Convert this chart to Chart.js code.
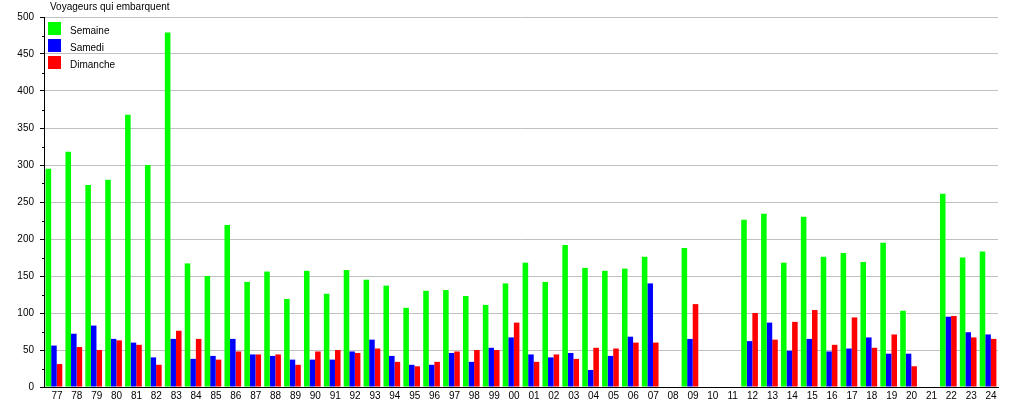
<!DOCTYPE html>
<html lang="fr">
<head>
<meta charset="utf-8">
<title>Voyageurs qui embarquent</title>
<script src="https://cdn.jsdelivr.net/npm/chart.js@4.4.1/dist/chart.umd.min.js"></script>
<style>
  html, body { margin: 0; padding: 0; background: #fff; }
  #wrap { width: 1015px; height: 400px; }
</style>
</head>
<body>
<div id="wrap"><canvas id="voyageursChart" width="1015" height="400"></canvas></div>
<script>
// années (2 chiffres) 1977 -> 2024
const annees = [
  '77', '78', '79', '80', '81', '82', '83', '84', '85', '86', '87', '88', '89', '90', '91', '92',
  '93', '94', '95', '96', '97', '98', '99', '00', '01', '02', '03', '04', '05', '06', '07', '08',
  '09', '10', '11', '12', '13', '14', '15', '16', '17', '18', '19', '20', '21', '22', '23', '24'
];

// null = pas de comptage cette année-là
const semaine = [
  295, 318, 273, 280, 368, 300, 479, 167, 150, 219, 142, 156, 119, 157, 126, 158,
  145, 137, 107, 130, 131, 123, 111, 140, 168, 142, 192, 161, 157, 160, 176, null,
  188, null, null, 226, 234, 168, 230, 176, 181, 169, 195, 103, null, 261, 175, 183
];
const samedi = [
  56, 72, 83, 65, 60, 40, 65, 38, 42, 65, 44, 42, 37, 37, 37, 48,
  64, 42, 30, 30, 46, 34, 53, 67, 44, 40, 46, 23, 42, 68, 140, null,
  65, null, null, 62, 87, 49, 65, 48, 52, 67, 45, 45, null, 95, 74, 71
];
const dimanche = [
  31, 54, 50, 63, 57, 30, 76, 65, 37, 48, 44, 44, 30, 48, 50, 46,
  52, 34, 28, 34, 48, 50, 50, 87, 34, 44, 38, 53, 52, 60, 60, null,
  112, null, null, 100, 64, 88, 104, 57, 94, 53, 71, 28, null, 96, 67, 65
];

const yMin = 0;
const yMax = 500;
const yStep = 25;      // petites graduations
const yLabelStep = 50; // graduations avec libellé

const titre = 'Voyageurs qui embarquent';

Chart.defaults.font.family = '"Liberation Sans", Arial, Helvetica, sans-serif';
Chart.defaults.font.size = 10;
Chart.defaults.color = '#000';

// titre + légende verticale dans le coin haut gauche, petites graduations de l'axe Y
const decorPlugin = {
  id: 'decor',
  afterDraw: (chart) => {
    const ctx = chart.ctx;
    const yScale = chart.scales.y;
    ctx.save();

    // petites graduations (valeurs non multiples de 50)
    ctx.strokeStyle = '#000';
    ctx.lineWidth = 1;
    yScale.ticks.forEach((t) => {
      if (t.value % yLabelStep === 0) return;
      const y = Math.round(yScale.getPixelForValue(t.value)) + 0.5;
      ctx.beginPath();
      ctx.moveTo(yScale.right - 2, y);
      ctx.lineTo(yScale.right, y);
      ctx.stroke();
    });

    ctx.font = '10px "Liberation Sans", Arial, sans-serif';
    ctx.fillStyle = '#000';
    ctx.textAlign = 'left';
    ctx.textBaseline = 'alphabetic';
    ctx.fillText(titre, 50, 10);

    chart.data.datasets.forEach((ds, i) => {
      const top = 22 + i * 17;
      ctx.fillStyle = ds.backgroundColor;
      ctx.fillRect(48, top, 13, 13);
      ctx.fillStyle = '#000';
      ctx.fillText(ds.label, 70, top + 12);
    });
    ctx.restore();
  }
};

new Chart(document.getElementById('voyageursChart'), {
  type: 'bar',
  data: {
    labels: annees,
    datasets: [
      { label: 'Semaine', data: semaine, backgroundColor: '#00ff00' },
      { label: 'Samedi', data: samedi, backgroundColor: '#0000ff' },
      { label: 'Dimanche', data: dimanche, backgroundColor: '#ff0000' }
    ]
  },
  options: {
    responsive: false,
    animation: false,
    devicePixelRatio: 1,
    layout: { padding: { left: 0, top: 17, right: 17, bottom: 0 } },
    datasets: {
      bar: { barPercentage: 1, categoryPercentage: 0.84, borderWidth: 0 }
    },
    plugins: {
      legend: { display: false },
      title: { display: false },
      tooltip: { enabled: false }
    },
    scales: {
      x: {
        grid: { display: false, drawTicks: false },
        border: { display: true, color: '#000', width: 1 },
        ticks: { padding: 3, labelOffset: 3, autoSkip: false, maxRotation: 0, color: '#000' },
        afterFit: (scale) => { scale.height = 13; }
      },
      y: {
        min: yMin,
        max: yMax,
        grid: {
          color: (c) => (c.tick && c.tick.value % yLabelStep === 0 && c.tick.value !== 0) ? '#c0c0c0' : 'transparent',
          tickColor: (c) => (c.tick && c.tick.value % yLabelStep === 0) ? '#000' : 'transparent',
          tickLength: 4,
          lineWidth: 1
        },
        border: { display: true, color: '#000', width: 1 },
        ticks: {
          stepSize: yStep,
          padding: 6,
          color: '#000',
          autoSkip: false,
          callback: (v) => (v % yLabelStep === 0 ? v : '')
        },
        afterFit: (scale) => { scale.width = 44; }
      }
    }
  },
  plugins: [decorPlugin]
});
</script>
</body>
</html>
